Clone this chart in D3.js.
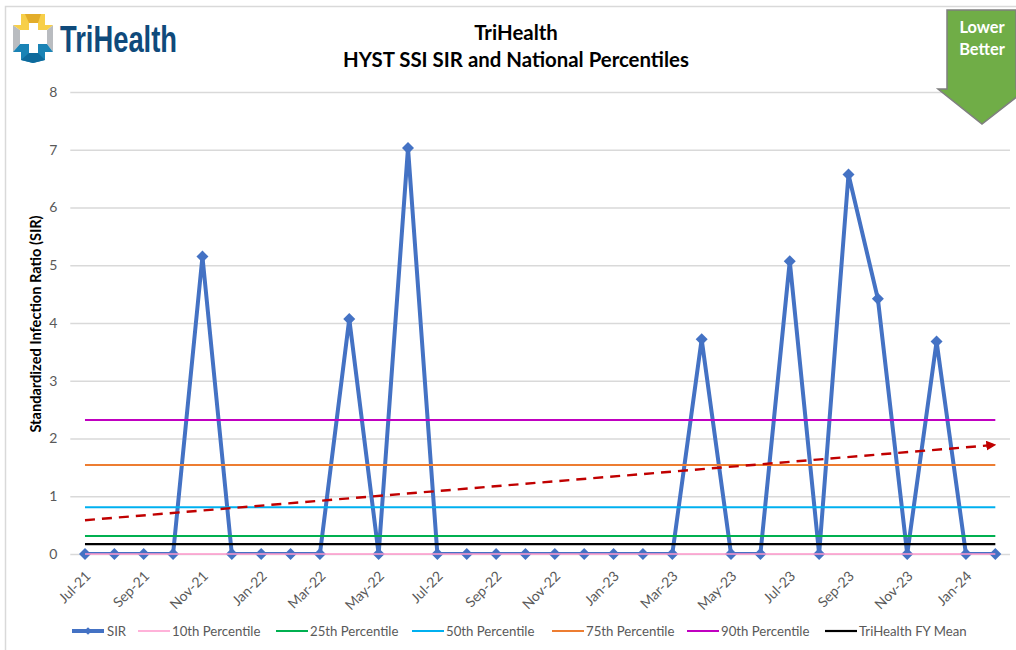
<!DOCTYPE html>
<html>
<head>
<meta charset="utf-8">
<script src="https://cdn.jsdelivr.net/npm/d3@7"></script>
<style>
html, body { margin: 0; padding: 0; background: #fff; }
svg { display: block; font-family: Lato, "Open Sans", sans-serif; }
</style>
</head>
<body>
<div id="chart"></div>
<script>
// months along the x axis
var months = ["Jul-21","Aug-21","Sep-21","Oct-21","Nov-21","Dec-21","Jan-22","Feb-22","Mar-22","Apr-22","May-22","Jun-22",
    "Jul-22","Aug-22","Sep-22","Oct-22","Nov-22","Dec-22","Jan-23","Feb-23","Mar-23","Apr-23","May-23","Jun-23",
    "Jul-23","Aug-23","Sep-23","Oct-23","Nov-23","Dec-23","Jan-24","Feb-24"];
var sir = [0,0,0,0,5.15,0,0,0,0,4.07,0,7.03,0,0,0,0,0,0,0,0,0,3.72,0,0,5.07,0,6.57,4.42,0,3.68,0,0];
var p10 = 0, p25 = 0.31, p50 = 0.81, p75 = 1.54, p90 = 2.32, fyMean = 0.17;
var trendEnds = [0.585, 1.89];
var yTicks = [0,1,2,3,4,5,6,7,8];
var flatSeries = [
    { name: "10th Percentile", value: p10, color: "#ff99cc", w: 1.5 },
    { name: "25th Percentile", value: p25, color: "#00b050", w: 2 },
    { name: "50th Percentile", value: p50, color: "#00b0f0", w: 2 },
    { name: "75th Percentile", value: p75, color: "#ed7d31", w: 2 },
    { name: "90th Percentile", value: p90, color: "#c000c0", w: 2 },
    { name: "TriHealth FY Mean", value: fyMean, color: "#000000", w: 2.2 }
];

var width = 1016, height = 650;
var svg = d3.select("#chart").append("svg")
    .attr("width", width)
    .attr("height", height);

// chart frame
svg.append("rect")
    .attr("x", 5.5).attr("y", 6.5)
    .attr("width", 1100).attr("height", 700)
    .attr("fill", "#fff")
    .attr("stroke", "#d9d9d9")
    .attr("stroke-width", 1.5);

var x = d3.scalePoint().domain(months).range([70.3, 1010]).padding(0.5);
var y = d3.scaleLinear().domain([0, 8]).range([554, 92]);

// the SIR line is cut off at the bottom of the plot, markers are not
svg.append("clipPath").attr("id", "plot-clip")
    .append("rect")
    .attr("x", 70.3).attr("y", y(8))
    .attr("width", 1010 - 70.3).attr("height", y(0) - y(8));

// y axis + gridlines
var yAxis = svg.append("g")
    .attr("transform", "translate(70.3,0)")
    .call(d3.axisLeft(y).tickValues(yTicks).tickSize(0).tickPadding(13));
yAxis.select(".domain").remove();
yAxis.selectAll(".tick text").attr("fill", "#595959").attr("font-size", 14).attr("font-family", "Lato");
yAxis.selectAll(".tick").append("line")
    .attr("x1", 0).attr("x2", 1010 - 70.3)
    .attr("stroke", "#d9d9d9").attr("stroke-width", 1.4);

// x axis, every second month labelled
var xAxis = svg.append("g")
    .attr("transform", "translate(0,554)")
    .call(d3.axisBottom(x).tickValues(months.filter(function (d, i) { return i % 2 == 0; })).tickSize(0));
xAxis.select(".domain").remove();
xAxis.selectAll(".tick text")
    .attr("fill", "#595959")
    .attr("font-size", 14)
    .attr("font-family", "Lato")
    .attr("text-anchor", "end")
    .attr("dy", "0.3em")
    .attr("transform", "translate(3,20) rotate(-45)")
    .attr("y", 0).attr("x", 0);

// SIR line and markers go under the flat lines
var sirLine = d3.line()
    .x(function (d, i) { return x(months[i]); })
    .y(function (d) { return y(d); });
svg.append("path")
    .datum(sir)
    .attr("fill", "none")
    .attr("stroke", "#4472c4")
    .attr("stroke-width", 4)
    .attr("stroke-linejoin", "round")
    .attr("clip-path", "url(#plot-clip)")
    .attr("d", sirLine);
svg.selectAll(".sir-pt")
    .data(sir)
    .join("path")
    .attr("class", "sir-pt")
    .attr("fill", "#4472c4")
    .attr("d", d3.symbol(d3.symbolSquare, 72))
    .attr("transform", function (d, i) { return "translate(" + x(months[i]) + "," + y(d) + ") rotate(45)"; });

// flat percentile lines
var flatLine = d3.line().x(function (d) { return x(d); });
flatSeries.forEach(function (s) {
    svg.append("path")
        .datum([months[0], months[months.length - 1]])
        .attr("fill", "none")
        .attr("stroke", s.color)
        .attr("stroke-width", s.w)
        .attr("d", flatLine.y(y(s.value)));
});

// dashed trend line with arrow head
svg.append("defs").append("marker")
    .attr("id", "arrow")
    .attr("viewBox", "0 0 10 10")
    .attr("refX", 9).attr("refY", 5)
    .attr("markerWidth", 10).attr("markerHeight", 10)
    .attr("markerUnits", "userSpaceOnUse")
    .attr("orient", "auto")
    .append("path")
    .attr("d", "M0,0L10,5L0,10Z")
    .attr("fill", "#c00000");
svg.append("line")
    .attr("x1", x(months[0])).attr("y1", y(trendEnds[0]))
    .attr("x2", x(months[months.length - 1])).attr("y2", y(trendEnds[1]))
    .attr("stroke", "#c00000")
    .attr("stroke-width", 2.4)
    .attr("stroke-dasharray", "10,7")
    .attr("marker-end", "url(#arrow)");

// y axis title
svg.append("text")
    .attr("transform", "translate(41,324) rotate(-90)")
    .attr("text-anchor", "middle")
    .attr("font-size", 14.6)
    .attr("font-weight", "bold")
    .attr("fill", "#000")
    .text("Standardized Infection Ratio (SIR)");

// chart title
var title = svg.append("text")
    .attr("text-anchor", "middle")
    .attr("font-size", 20.4)
    .attr("font-weight", "bold")
    .attr("fill", "#000");
title.append("tspan").attr("x", 516).attr("y", 40).text("TriHealth");
title.append("tspan").attr("x", 516).attr("y", 67).text("HYST SSI SIR and National Percentiles");

// legend
var legendItems = [{ name: "SIR", color: "#4472c4", w: 4, lx: 72, tx: 107 }];
var legendX = [138, 276, 412, 552, 687, 825];
flatSeries.forEach(function (s, i) {
    legendItems.push({ name: s.name, color: s.color, w: s.w, lx: legendX[i], tx: legendX[i] + 34 });
});
var legend = svg.selectAll(".legend-item").data(legendItems).join("g").attr("class", "legend-item");
legend.append("line")
    .attr("x1", function (d) { return d.lx; })
    .attr("x2", function (d) { return d.lx + 32; })
    .attr("y1", 631).attr("y2", 631)
    .attr("stroke", function (d) { return d.color; })
    .attr("stroke-width", function (d) { return d.w; });
legend.append("text")
    .attr("x", function (d) { return d.tx; })
    .attr("y", 635.5)
    .attr("font-size", 13.2)
    .attr("fill", "#595959")
    .text(function (d) { return d.name; });
svg.append("path")
    .attr("d", d3.symbol(d3.symbolSquare, 30))
    .attr("fill", "#4472c4")
    .attr("transform", "translate(88,631) rotate(45)");

// lower is better arrow
svg.append("path")
    .attr("d", "M947,10H1016V89L1027,89L982,124L938,89H947Z")
    .attr("fill", "#70ad47")
    .attr("stroke", "#7f7f7f")
    .attr("stroke-width", 1.5);
var better = svg.append("text")
    .attr("text-anchor", "middle")
    .attr("font-size", 16.4)
    .attr("font-weight", "bold")
    .attr("fill", "#fff");
better.append("tspan").attr("x", 982).attr("y", 33).text("Lower");
better.append("tspan").attr("x", 982).attr("y", 55).text("Better");

// logo
var logo = svg.append("g");
logo.append("path").attr("d", "M13,25L20,30V44L13,52Z").attr("fill", "#b9bcc0");
logo.append("path").attr("d", "M53,25L47,30V44L53,52Z").attr("fill", "#b9bcc0");
logo.append("path").attr("d", "M21,14H45V25H53L47,30H38V23H29V30H20L13,25H21Z").attr("fill", "#f7cf4a");
logo.append("path").attr("d", "M29,23L25,14H41L38,23Z").attr("fill", "#e3ad2a");
logo.append("path").attr("d", "M13,52L20,44H29V53H38V44H47L53,52H45V60L33,63L21,60V52Z").attr("fill", "#1a83b5");
logo.append("path").attr("d", "M29,53H38L45,60L33,63L21,60Z").attr("fill", "#0e6a9c");
logo.append("text")
    .attr("x", 60).attr("y", 52)
    .attr("font-size", 37)
    .attr("font-weight", "bold")
    .attr("font-family", "Liberation Sans Narrow, Liberation Sans, sans-serif")
    .attr("fill", "#0f4a7b")
    .attr("textLength", 117)
    .attr("lengthAdjust", "spacingAndGlyphs")
    .text("TriHealth");
</script>
</body>
</html>
